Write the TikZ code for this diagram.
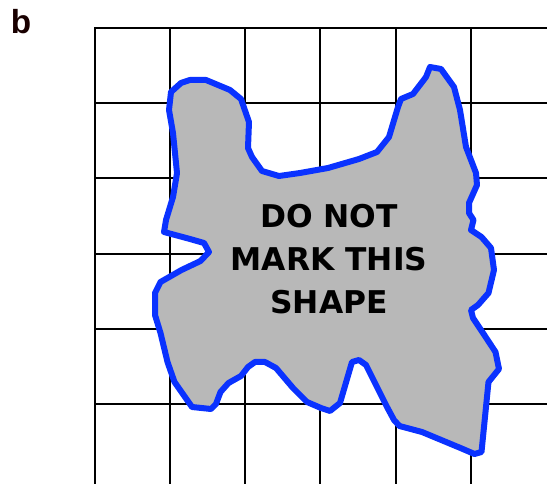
\documentclass[tikz,border=0pt]{standalone}
\usepackage{fontspec}
\setmainfont{Liberation Sans}
\newfontfamily\shapefont{DejaVu Sans}
\definecolor{outlineblue}{HTML}{0A32FF}
\definecolor{shapegray}{HTML}{B8B8B8}
\begin{document}
\begin{tikzpicture}[x=0.75pt,y=-0.75pt]
            \useasboundingbox (0,0) rectangle (547,484);
            % Draw the grid
            \foreach \gx in {95,170,245,320,396,471}
                \draw[line width=0.9pt] (\gx,28) -- (\gx,484);
            \foreach \gy in {28,103,178,254,329,404}
                \draw[line width=0.9pt] (94,\gy) -- (547,\gy);

            % Draw the irregular shape
            \filldraw[fill=shapegray, draw=outlineblue, line width=4.5pt, line join=round]
                (171,92) -- (181,83) -- (190,80) -- (206,80) -- (230,90) -- (241,99)
                -- (249,122) -- (248,148) -- (252,157) -- (262,171) -- (279,176)
                -- (300,173) -- (328,168) -- (359,159) -- (377,152) -- (389,137)
                -- (398,107) -- (401,99) -- (413,94) -- (426,77) -- (430,67)
                -- (441,69) -- (454,87) -- (460,110) -- (466,147) -- (476,173)
                -- (477,185) -- (469,203) -- (469,213) -- (473.5,220) -- (471,230)
                -- (481.5,237) -- (491,248) -- (494,270) -- (488.5,293) -- (478,305)
                -- (471,310) -- (473,318) -- (483,333) -- (495.5,352) -- (499,369)
                -- (488.5,382) -- (481.5,452) -- (474.5,454) -- (460.5,448)
                -- (422,432) -- (399.5,426) -- (394,420) -- (387,407) -- (366,365)
                -- (359,360) -- (352,362) -- (340,403) -- (330,411) -- (321,408)
                -- (307,402) -- (293,388) -- (276,368) -- (265,362) -- (255,362)
                -- (248,367) -- (241,376) -- (228.5,383) -- (220.5,392) -- (216,404)
                -- (211,409) -- (192,407) -- (174.5,382) -- (167.5,362) -- (160.5,333)
                -- (155,315) -- (155,293) -- (160.5,282) -- (181.5,270) -- (200.5,261)
                -- (209,252) -- (204,243) -- (190,239) -- (164,232) -- (166,220)
                -- (173,197) -- (177,173) -- (173,133) -- (169,110) -- cycle;

            % Labels
            \node[align=center, font=\shapefont\bfseries\fontsize{23.5}{32}\selectfont]
                (warning) at (329,259) {DO NOT\\MARK THIS\\SHAPE};
            \node[font=\bfseries\fontsize{25}{30}\selectfont, text=black!90!red]
                (panel) at (21,22) {b};
        \end{tikzpicture}
\end{document}
